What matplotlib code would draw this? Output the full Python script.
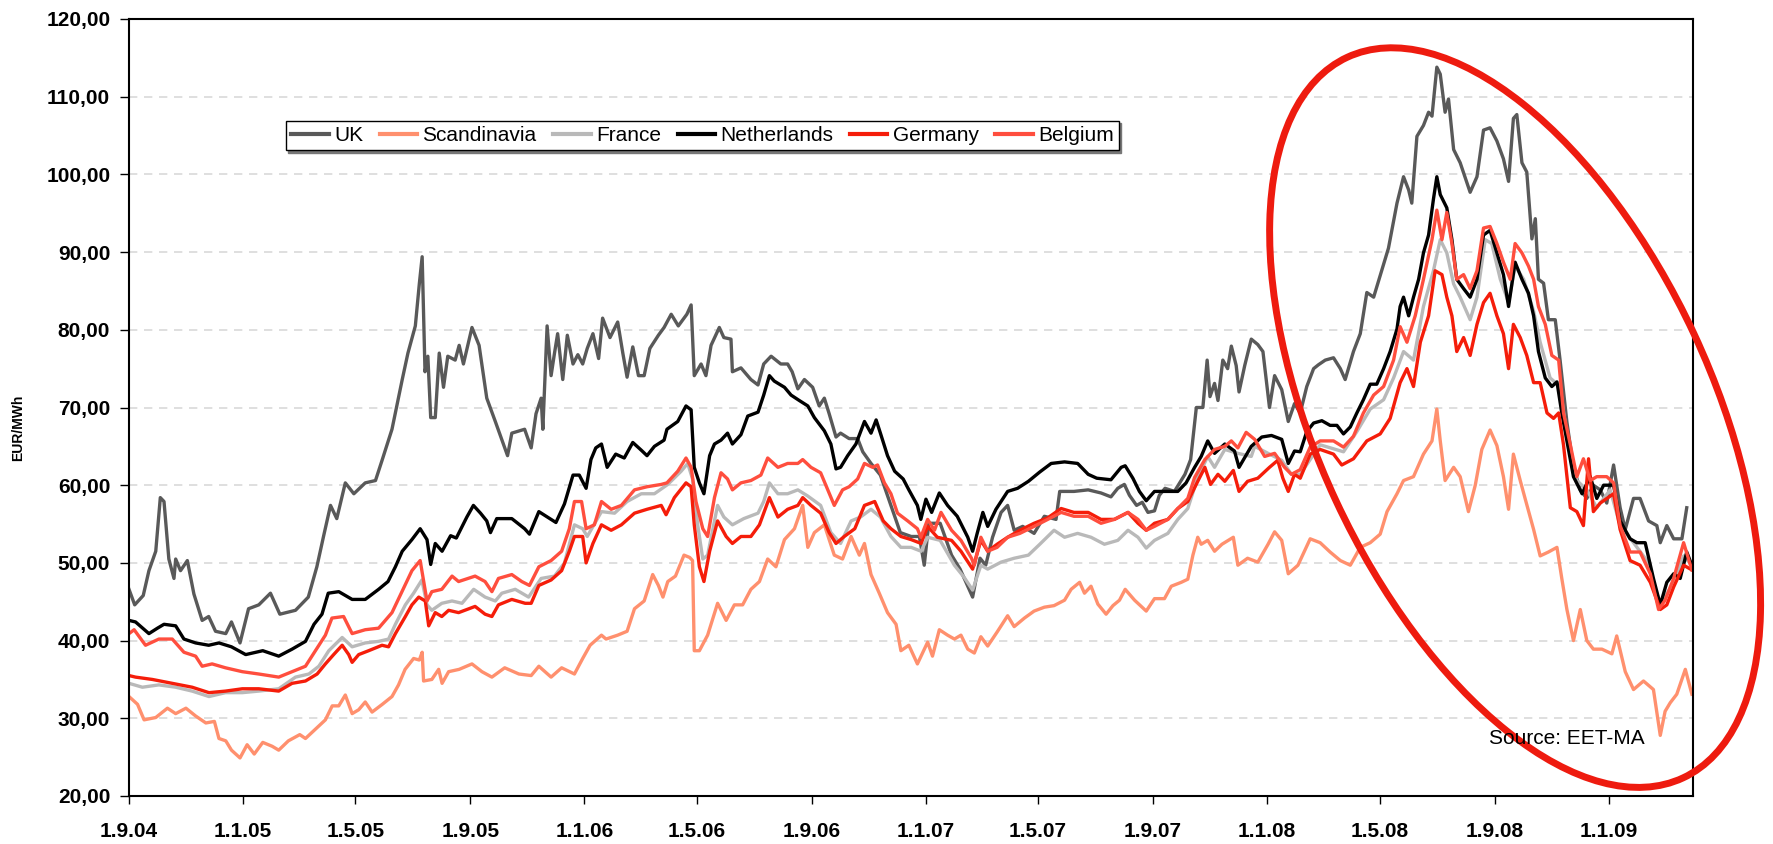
import matplotlib
matplotlib.use('Agg')
import matplotlib.pyplot as plt
from matplotlib import font_manager
from matplotlib.patches import Ellipse
from matplotlib.transforms import IdentityTransform
from matplotlib.ticker import FuncFormatter
import matplotlib.dates as mdates
import numpy as np
import pandas as pd

# x values are months after 1.9.2004
START = pd.Timestamp('2004-09-01')

uk_m = [0, 0.2, 0.5, 0.7, 0.94, 1.1, 1.23, 1.4, 1.58, 1.64, 1.81, 2.05, 2.28, 2.57, 2.8, 3.04, 3.4, 3.6, 3.9, 4.2,
        4.56, 4.97, 5.3, 5.85, 6.3, 6.6, 6.84, 7.08, 7.3, 7.6, 7.9, 8.3, 8.66, 8.9, 9.24, 9.6, 9.8, 10.06, 10.2, 10.3,
        10.4, 10.5, 10.6, 10.76, 10.9, 11.05, 11.2, 11.46, 11.6, 11.75, 12.05, 12.3, 12.57, 12.87, 13.3, 13.45, 13.9,
        14.13, 14.3, 14.48, 14.54, 14.69, 14.83, 14.95, 15.06, 15.24, 15.4, 15.6, 15.77, 15.94, 16.1, 16.3, 16.5, 16.64,
        16.9, 17.17, 17.35, 17.5, 17.7, 17.9, 18.1, 18.3, 18.6, 18.8, 19.05, 19.3, 19.6, 19.75, 19.86, 20.1, 20.27, 20.45,
        20.74, 20.9, 21.15, 21.2, 21.5, 21.85, 22.1, 22.3, 22.56, 22.9, 23.14, 23.3, 23.5, 23.73, 24.02, 24.25, 24.43,
        24.6, 24.84, 25, 25.3, 25.6, 25.78, 26.07, 26.4, 26.77, 27.1, 27.48, 27.77,
        27.94, 28.1, 28.5, 28.9, 29.2, 29.64, 29.9, 30.1, 30.34, 30.64, 30.87, 31.1, 31.4, 31.8, 32.16, 32.57, 32.7,
        33.2, 33.7, 34.15, 34.5, 34.74, 34.97, 35.15, 35.4, 35.6, 35.8, 36.03, 36.2, 36.4, 36.73, 37.1, 37.3, 37.5,
        37.73, 37.88, 37.98, 38.14, 38.26, 38.43, 38.6, 38.73, 38.9, 39, 39.2, 39.43, 39.66, 39.84, 40.07, 40.25, 40.5,
        40.73, 40.95,
        41.15, 41.38, 41.62, 41.79, 42.03, 42.32, 42.56, 42.73, 43.02, 43.26, 43.49, 43.73, 43.96, 44.25, 44.55, 44.78,
        44.96, 45.07, 45.25, 45.48, 45.66, 45.78, 45.95, 46.07, 46.24, 46.36, 46.54, 46.77, 47.12, 47.36, 47.59, 47.82,
        48.06, 48.29, 48.47, 48.64, 48.76, 48.94, 49.11, 49.29, 49.41, 49.52, 49.7, 49.87, 50.11, 50.28, 50.52, 50.75,
        50.99, 51.22, 51.45, 51.69, 51.92, 52.16, 52.39, 52.57, 52.86, 53.09, 53.39, 53.68, 53.8, 54.03, 54.27, 54.56,
        54.73]
uk_v = [46.6, 44.6, 45.8, 49, 51.5, 58.4, 57.9, 50.5, 48, 50.5, 49, 50.3, 46, 42.6, 43.1, 41.2, 40.9, 42.4, 39.7, 44.1,
        44.6, 46.1, 43.4, 43.9, 45.6, 49.5, 53.5, 57.4, 55.7, 60.3, 58.9, 60.3, 60.6, 63.3, 67.2, 73.6, 77, 80.5, 85.9,
        89.4, 74.6, 76.6, 68.7, 68.7, 77, 72.6, 76.6, 76.1, 78, 75.6, 80.3, 78, 71.2, 68.2, 63.8, 66.7, 67.2,
        64.8, 69.2, 71.2, 67.2, 80.5, 74.1, 77, 79.5, 73.6, 79.3, 75.6, 76.8, 75.6, 77.6, 79.5, 76.3, 81.5, 79, 81, 77,
        73.9, 77.8, 74.1, 74.1, 77.6, 79.3, 80.3, 82, 80.5, 82, 83.2, 74.1, 75.6, 74.1, 78, 80.3, 79, 78.8, 74.6, 75.1,
        73.6, 72.9, 75.6, 76.6, 75.6, 75.6, 74.6, 72.4, 73.6, 72.6, 70.2, 71.2, 69.2, 66.2, 66.7, 66, 66, 64.3, 62.8,
        61.3, 57.4, 53.9, 53.4, 53.4,
        49.7, 55.1, 55.1, 51, 49.2, 45.6, 50.6, 49.7, 53.3, 56.5, 57.4, 54.2, 54.7, 53.8, 56, 55.6, 59.2, 59.2, 59.4, 59,
        58.5, 59.6, 60.1, 58.7, 57.4, 57.8, 56.5, 56.7, 58.7, 59.6, 59.2, 61.4, 63.3, 70, 70, 76.1, 71.4, 73.1, 70.9,
        76.1, 75, 77.9, 75.4, 72, 75.4, 78.8, 78.1, 77.2, 70, 74.1, 72.3, 68.2, 70.5,
        69.3, 72.7, 75, 75.5, 76.1, 76.4, 75, 73.6, 77.2, 79.5, 84.8, 84.2, 87, 90.5, 96.3, 99.7, 98, 96.3, 104.9,
        106.3, 108, 107.5, 113.8, 112.9, 108, 109.7, 103.2, 101.5, 97.7, 99.7, 105.7, 106, 104.3, 102, 99.1, 107.2,
        107.7, 101.5, 100.3, 91.7, 94.3, 86.5, 86, 81.3, 81.3, 76.1, 68.1, 62.3, 59.4, 58.3, 60, 59.4, 57.7, 62.6,
        57.1, 54.3, 58.3, 58.3, 55.4, 54.8, 52.6, 54.8, 53.1, 53.1, 57.1]

sc_m = [0, 0.3, 0.53, 0.94, 1.35, 1.64, 2, 2.34, 2.7, 3, 3.16, 3.4, 3.6, 3.9, 4.15, 4.4, 4.7, 5.03, 5.26, 5.6,
        6, 6.2, 6.55, 6.9, 7.14, 7.37, 7.6, 7.84, 8.07, 8.3, 8.54, 8.9, 9.24, 9.47, 9.7, 10, 10.2, 10.3, 10.35, 10.64,
        10.88, 11, 11.23, 11.6, 12.05, 12.4, 12.75, 13.2, 13.7,
        14.13, 14.4, 14.83, 15.2, 15.65, 15.94, 16.2, 16.6, 16.76, 17.17, 17.5, 17.76, 18.1, 18.4, 18.6, 18.76, 18.93,
        19.2, 19.5, 19.7, 19.8, 19.86, 20.04, 20.33, 20.68, 20.98, 21.27, 21.56, 21.85, 22.15, 22.44, 22.73, 23.03,
        23.38, 23.67, 23.85, 24.08, 24.43, 24.78, 25.07, 25.37, 25.66, 25.84, 26.07, 26.36, 26.65, 26.95, 27.12, 27.4,
        27.7,
        28.06, 28.23, 28.47, 28.76, 29, 29.23, 29.47, 29.7, 29.93, 30.17, 30.5, 30.87, 31.1, 31.46, 31.8, 32.16, 32.5,
        32.87, 33.1, 33.4, 33.57, 33.8, 34.04, 34.33, 34.57, 34.8, 35, 35.33, 35.74, 36.03, 36.38, 36.62, 36.97, 37.2,
        37.38, 37.55, 37.67, 37.9, 38.14, 38.4, 38.8, 38.96, 39.3, 39.66, 40.02, 40.25, 40.5, 40.73, 41.07,
        41.5, 41.85, 42.2, 42.56, 42.91, 43.26, 43.61, 43.96, 44.2, 44.55, 44.78, 45.13, 45.48, 45.78, 45.95, 46.07,
        46.24, 46.54, 46.77, 47.06, 47.3, 47.53, 47.82, 48.06, 48.29, 48.47, 48.64, 48.88, 49.05, 49.35, 49.58, 49.87,
        50.17, 50.34, 50.52, 50.75, 50.99, 51.22, 51.45, 51.75, 52.1, 52.27, 52.57, 52.86, 53.21, 53.56, 53.8, 53.97,
        54.15, 54.38, 54.68, 54.91]
sc_v = [32.8, 31.8, 29.8, 30.1, 31.3, 30.6, 31.3, 30.3, 29.4, 29.6, 27.4, 27.1, 25.9, 24.9, 26.6, 25.4, 26.9, 26.4,
        25.9, 27.1, 27.9, 27.4, 28.6, 29.8, 31.6, 31.6, 33, 30.6, 31.1, 32.1, 30.8, 31.8, 32.8, 34.3, 36.3, 37.7, 37.5,
        38.5, 34.8, 35, 36.3, 34.5, 36, 36.3, 37, 36, 35.3, 36.5, 35.7,
        35.5, 36.7, 35.3, 36.5, 35.7, 37.7, 39.4, 40.7, 40.2, 40.7, 41.2, 44.1, 45.1, 48.5, 47.1, 45.6, 47.6, 48.3, 51,
        50.7, 50.3, 38.7, 38.7, 40.7, 44.8, 42.6, 44.6, 44.6, 46.6, 47.6, 50.5, 49.5, 53, 54.4, 57.4, 52, 53.9, 54.9,
        51, 50.5, 53.4, 51, 52.5, 48.5, 46.1, 43.6, 42.1, 38.7, 39.4, 37,
        39.8, 38, 41.4, 40.7, 40.2, 40.7, 38.9, 38.4, 40.5, 39.3, 41.1, 43.2, 41.8, 42.9, 43.8, 44.3, 44.5, 45.2, 46.6,
        47.5, 46.1, 47, 44.7, 43.4, 44.5, 45.2, 46.6, 45.2, 43.8, 45.4, 45.4, 47, 47.5, 47.9, 51, 53.3, 52.4, 52.9,
        51.5, 52.4, 53.3, 49.7, 50.6, 50.1, 52.4, 54, 52.9, 48.6, 49.7,
        53.1, 52.6, 51.4, 50.3, 49.7, 52, 52.6, 53.7, 56.6, 58.9, 60.6, 61.1, 64, 65.7, 69.8, 65.7, 60.6, 62.3, 61.1,
        56.6, 60, 64.6, 67.1, 65.1, 61.1, 56.9, 64, 60.6, 58.3, 54.3, 50.9, 51.4, 52, 48, 44, 40, 44, 40, 38.9, 38.9,
        38.3, 40.6, 36, 33.7, 34.8, 33.7, 27.8, 30.9, 32, 33.1, 36.3, 33.1]

fr_m = [0, 0.47, 1.05, 1.64, 2.22, 2.81, 3.39, 3.98, 4.56, 5.26, 5.85, 6.32, 6.67, 7.02, 7.49, 7.84, 8.3, 8.77, 9.12,
        9.36, 9.71, 10, 10.29, 10.47, 10.64, 10.99, 11.35, 11.7, 12.11, 12.51, 12.87, 13.1, 13.57, 14.04,
        14.48, 14.95, 15.3, 15.65, 15.94, 16.1, 16.6, 17.06, 17.5, 18, 18.46, 18.93, 19.4, 19.63, 19.8, 19.98, 20.16,
        20.33, 20.68, 20.9, 21.2, 21.6, 22.1, 22.3, 22.5, 22.8, 23.14, 23.5, 23.85, 24.3, 24.66, 25, 25.37, 25.7,
        26.07, 26.4, 26.77, 27.12, 27.48, 27.83,
        28.06, 28.5, 29, 29.35, 29.64, 29.93, 30.17, 30.64, 31.1, 31.6, 32, 32.5, 32.87, 33.33, 33.8, 34.27, 34.74,
        35.1, 35.45, 35.74, 36.03, 36.5, 36.85, 37.2, 37.55, 37.9, 38.14, 38.5, 38.96, 39.43, 39.55, 40.02, 40.5, 40.84,
        41.15, 41.85, 42.67, 43.14, 43.61, 44.08, 44.43, 44.78, 45.13, 45.48, 45.83, 46.07, 46.3, 46.54, 46.77, 47.12,
        47.36, 47.65, 47.88, 48.18, 48.47, 48.7, 49, 49.35, 49.58, 49.93, 50.28, 50.52, 50.87, 51.22, 51.57, 52.04,
        52.39, 52.86, 53.33, 53.8, 54.27, 54.62, 54.91]
fr_v = [34.5, 34, 34.3, 34, 33.5, 32.8, 33.3, 33.3, 33.5, 33.8, 35.3, 35.7, 36.7, 38.7, 40.4, 39.2, 39.7, 39.9, 40.2,
        42.1, 44.6, 46.1, 47.8, 44.6, 43.9, 44.8, 45.1, 44.8, 46.6, 45.6, 45.1, 46.1, 46.6, 45.6,
        48, 48.3, 50, 54.9, 54.4, 53.4, 56.6, 56.4, 57.9, 58.9, 58.9, 60.1, 61.8, 62.8, 60.8, 54.9, 50.5, 51, 57.4,
        55.9, 54.9, 55.7, 56.4, 57.9, 60.3, 58.9, 58.9, 59.4, 58.6, 57.4, 53.9, 52.5, 55.4, 55.9, 56.9, 55.9, 53.4, 52,
        52, 51.5,
        53.3, 52.9, 49.7, 48.1, 46.5, 49.7, 49.2, 50.1, 50.6, 51, 52.4, 54.2, 53.3, 53.8, 53.3, 52.4, 52.9, 54.2, 53.3,
        51.9, 52.9, 53.8, 55.6, 57, 61, 63.7, 62.3, 64.6, 64.1, 63.7, 65, 64.1, 63.2, 61.4,
        61.4, 65.2, 64.3, 66.9, 69.8, 71, 73.8, 77.2, 76.1, 83, 87.6, 91.6, 89.9, 85.9, 84.2, 81.3, 84.2, 91.6, 91.1,
        86.5, 83.5, 88.2, 86.5, 82.4, 78.4, 73.8, 72.7, 66.3, 60.6, 59.4, 57.1, 59.4, 54.8, 52.6, 50.3, 44.6, 47.5,
        50.9, 49.7]

nl_m = [0, 0.23, 0.7, 1, 1.23, 1.64, 1.93, 2.34, 2.8, 3.16, 3.6, 4.1, 4.7, 5.26, 5.73, 6.2, 6.5, 6.78, 7, 7.37,
        7.84, 8.3, 8.77, 9.1, 9.36, 9.6, 9.94, 10.23, 10.47, 10.6, 10.76, 11, 11.3, 11.5, 11.87, 12.1, 12.35, 12.57,
        12.7, 12.92, 13.45, 13.9,
        14.07, 14.4, 14.7, 15, 15.3, 15.6, 15.82, 16.06, 16.23, 16.4, 16.6, 16.8, 17.1, 17.4, 17.7, 18, 18.2, 18.46,
        18.8, 18.9, 19.28, 19.57, 19.75, 19.86, 20.04, 20.2, 20.4, 20.57, 20.8, 21.03, 21.2, 21.5, 21.74, 22.1, 22.3,
        22.5, 22.67, 23.03, 23.26, 23.55, 23.85, 24.08, 24.43, 24.66, 24.84, 25, 25.25, 25.54, 25.84, 26.07, 26.25,
        26.4, 26.65, 26.9, 27.2, 27.4, 27.7,
        27.82, 28, 28.2, 28.47, 28.76, 29.1, 29.47, 29.64, 29.8, 30, 30.17, 30.46, 30.87, 31.22, 31.6, 32, 32.4, 32.87,
        33.33, 33.7, 34, 34.5, 34.86, 35, 35.27, 35.5, 35.74, 36.03, 36.5, 36.85, 37.14, 37.44, 37.67, 37.9, 38.14,
        38.5, 38.84, 39, 39.43, 39.8, 40.14, 40.5, 40.73, 40.95,
        41.15, 41.38, 41.62, 41.91, 42.2, 42.44, 42.67, 42.91, 43.14, 43.37, 43.61, 43.84, 44.08, 44.31, 44.55, 44.66,
        44.78, 44.96, 45.13, 45.31, 45.48, 45.66, 45.83, 45.95, 46.07, 46.3, 46.48, 46.65, 46.89, 47.12, 47.36, 47.59,
        47.82, 48.06, 48.29, 48.47, 48.7, 48.94, 49.17, 49.35, 49.52, 49.76, 49.99, 50.17, 50.34, 50.52, 50.75, 51.05,
        51.34, 51.57, 51.81, 52.16, 52.39, 52.74, 52.98, 53.27, 53.56, 53.8, 54.03, 54.27, 54.5, 54.73, 54.91]
nl_v = [42.6, 42.4, 40.9, 41.6, 42.1, 41.9, 40.2, 39.7, 39.4, 39.7, 39.2, 38.2, 38.7, 38, 38.9, 39.9, 42.1, 43.4,
        46.1, 46.3, 45.3, 45.3, 46.6, 47.6, 49.5, 51.5, 53, 54.4, 53, 49.8, 52.5, 51.5, 53.5, 53.2, 55.9, 57.4, 56.4,
        55.4, 53.9, 55.7, 55.7, 54.4,
        53.7, 56.6, 55.9, 55.2, 57.6, 61.3, 61.3, 59.6, 63.3, 64.8, 65.3, 62.3, 64, 63.5, 65.5, 64.5, 63.8, 65, 65.8,
        67.2, 68.2, 70.2, 69.7, 62.3, 60.3, 58.9, 63.8, 65.3, 65.8, 66.7, 65.3, 66.5, 68.9, 69.4, 71.6, 74.1, 73.4,
        72.6, 71.6, 70.9, 70.2, 68.7, 67, 65.3, 62.1, 62.3, 63.8, 65.3, 68.2, 66.7, 68.4, 66.7, 63.8, 61.8, 60.8, 59.4,
        57.4,
        55.6, 58.2, 56.5, 59, 57.4, 56, 53.3, 51.5, 53.8, 56.5, 54.7, 56.9, 59.2, 59.6, 60.5, 61.7, 62.8, 63, 62.8,
        61.4, 60.9, 60.7, 62.3, 62.5, 60.9, 59.2, 58, 59.2, 59.2, 59.2, 60.3, 62.3, 63.7, 65.7, 64.1, 65.3, 64.4, 62.3,
        65, 66.2, 66.4, 65.9, 62.8, 64.4,
        64.3, 66.9, 68, 68.3, 67.7, 67.7, 66.6, 67.5, 69.3, 71, 73, 73, 75, 77.2, 80.1, 83, 84.2, 81.8, 84.2, 86.5,
        89.9, 92.2, 96.8, 99.7, 97.4, 95.7, 91.6, 86.5, 85.3, 84.2, 86.5, 92.2, 92.8, 89.9, 87.1, 83, 88.7, 86.5, 84.7,
        81.8, 77.2, 73.8, 72.7, 73.3, 69.3, 65.7, 61.1, 58.9, 61.1, 58.3, 60, 60, 55.4, 53.1, 52.6, 52.6, 48, 44.6,
        47.5, 48.6, 48, 51.4, 49.7]

de_m = [0, 0.23, 0.82, 1.52, 2.22, 2.81, 3.39, 3.98, 4.56, 5.26, 5.73, 6.2, 6.61, 6.9, 7.19, 7.49, 7.72, 7.84, 8.07,
        8.42, 8.89, 9.12, 9.36, 9.71, 9.94, 10.18, 10.41, 10.53, 10.76, 10.99, 11.23, 11.58, 12.16, 12.51, 12.75,
        12.98, 13.45, 13.92,
        14.13, 14.4, 14.83, 15.2, 15.47, 15.65, 15.94, 16.06, 16.3, 16.6, 16.94, 17.3, 17.76, 18.2, 18.7, 18.87, 19.16,
        19.57, 19.75, 19.86, 20.04, 20.2, 20.4, 20.68, 20.98, 21.2, 21.5, 21.85, 22.15, 22.5, 22.8, 23.14, 23.5, 23.67,
        23.96, 24.3, 24.6, 24.84, 25.13, 25.5, 25.84, 26.2, 26.5, 26.77, 27.12, 27.48, 27.83,
        28.06, 28.4, 28.9, 29.23, 29.64, 29.93, 30.17, 30.5, 30.87, 31.3, 31.8, 32.28, 32.75, 33.2, 33.7, 34.15, 34.62,
        35.1, 35.45, 35.74, 36.03, 36.5, 36.85, 37.2, 37.55, 37.8, 38, 38.26, 38.5, 38.8, 39, 39.3, 39.66, 40.07,
        40.36, 40.54, 40.73, 40.95,
        41.15, 41.5, 41.85, 42.32, 42.61, 43.02, 43.49, 43.96, 44.31, 44.66, 44.9, 45.13, 45.37, 45.66, 45.89, 46.13,
        46.3, 46.48, 46.65, 46.89, 47.12, 47.36, 47.59, 47.82, 48.06, 48.29, 48.47, 48.64, 48.88, 49.11, 49.35, 49.58,
        49.82, 50.05, 50.23, 50.4, 50.64, 50.87, 51.1, 51.28, 51.45, 51.69, 52.16, 52.39, 52.74, 53.09, 53.45, 53.8,
        54.03, 54.27, 54.62, 54.91]
de_v = [35.5, 35.3, 35, 34.5, 34, 33.3, 33.5, 33.8, 33.8, 33.5, 34.5, 34.8, 35.7, 37, 38.2, 39.4, 38.2, 37.2, 38.2,
        38.7, 39.4, 39.2, 40.9, 43.1, 44.6, 45.6, 45.1, 41.9, 43.6, 43.1, 43.9, 43.6, 44.4, 43.4, 43.1, 44.6, 45.3,
        44.8,
        44.8, 47.1, 47.8, 49, 51.5, 53.4, 53.4, 50, 52.5, 54.9, 54.2, 54.9, 56.4, 56.9, 57.4, 56.2, 58.4, 60.3, 59.8,
        54.9, 49.5, 47.6, 51.5, 55.4, 53.4, 52.5, 53.4, 53.4, 54.9, 58.4, 55.9, 56.9, 57.4, 58.4, 57.4, 56.4, 53.9,
        52.5, 53.4, 54.4, 57.4, 57.9, 55.4, 54.4, 53.4, 53, 52.5,
        54.7, 53.3, 52.9, 51.5, 49.2, 52.9, 51.5, 52.4, 53.3, 54.2, 55.1, 55.8, 57, 56.5, 56.5, 55.6, 55.6, 56.5, 55.1,
        54.2, 55.1, 55.6, 57, 57.9, 60.5, 62.3, 60.1, 61.4, 60.5, 61.9, 59.2, 60.5, 60.9, 62.3, 63.2, 60.9, 59.2, 61.4,
        60.9, 64, 64.6, 64, 62.6, 63.4, 65.7, 66.6, 68.6, 73.2, 75, 72.7, 78.4, 81.8, 87.6, 87.1, 84.2, 81.8, 77.2, 79,
        76.7, 80.7, 83.5, 84.7, 81.8, 79.5, 75, 80.7, 79, 76.7, 73.2, 73.2, 69.3, 68.6, 69.3, 65.2, 57.1, 56.6, 54.8,
        63.4, 56.6, 57.7, 58.9, 54.3, 50.3, 49.7, 47.5, 44, 44.6, 46.9, 49.7, 49.1]

be_m = [0, 0.18, 0.58, 1.05, 1.52, 1.93, 2.34, 2.57, 2.92, 3.39, 3.98, 4.56, 5.26, 5.73, 6.2, 6.55, 6.9, 7.13, 7.54,
        7.84, 8.3, 8.77, 9.24, 9.59, 9.94, 10.23, 10.47, 10.64, 10.99, 11.35, 11.58, 12.16, 12.51, 12.75, 12.98, 13.45,
        13.8,
        14.07, 14.4, 14.83, 15.2, 15.47, 15.65, 15.9, 16.06, 16.35, 16.6, 16.94, 17.3, 17.76, 18.2, 18.7, 18.9, 19.28,
        19.57, 19.75, 19.92, 20.16, 20.33, 20.57, 20.8, 21.03, 21.2, 21.5, 21.85, 22.2, 22.44, 22.8, 23.14, 23.5,
        23.67, 23.96, 24.3, 24.55, 24.78, 25.07, 25.3, 25.6, 25.84, 26.13, 26.3, 26.54, 26.77, 27, 27.36, 27.7,
        27.82, 28.06, 28.3, 28.53, 28.9, 29.23, 29.6, 29.7, 29.93, 30.17, 30.5, 30.87, 31.3, 31.8, 32.28, 32.75, 33.2,
        33.7, 34.15, 34.62, 35.1, 35.45, 35.74, 36.03, 36.5, 36.85, 37.2, 37.44, 37.8, 38.14, 38.5, 38.73, 38.96,
        39.25, 39.55, 39.9, 40.25, 40.6, 40.84,
        41.15, 41.5, 41.85, 42.32, 42.67, 43.02, 43.37, 43.73, 44.08, 44.43, 44.66, 44.9, 45.19, 45.48, 45.78, 45.95,
        46.13, 46.3, 46.48, 46.65, 46.89, 47.12, 47.36, 47.59, 47.82, 48.06, 48.29, 48.53, 48.7, 48.94, 49.17, 49.35,
        49.52, 49.76, 49.99, 50.23, 50.4, 50.64, 50.87, 51.1, 51.34, 51.57, 51.92, 52.16, 52.39, 52.74, 53.09, 53.45,
        53.74, 53.97, 54.27, 54.62, 54.91]
be_v = [40.9, 41.4, 39.4, 40.2, 40.2, 38.5, 38, 36.7, 37, 36.5, 36, 35.7, 35.3, 36, 36.7, 38.7, 40.7, 42.9, 43.1, 40.9,
        41.4, 41.6, 43.6, 46.3, 49, 50.3, 45.1, 46.3, 46.6, 48.3, 47.6, 48.3, 47.6, 46.3, 48, 48.5, 47.6,
        47.1, 49.5, 50.3, 51.5, 54.4, 57.9, 57.9, 54.4, 54.9, 57.9, 56.9, 57.4, 59.4, 59.8, 60.1, 60.3, 61.8, 63.5,
        62.3, 57.9, 54.4, 53.4, 58.4, 61.6, 60.8, 59.4, 60.3, 60.6, 61.3, 63.5, 62.3, 62.8, 62.8, 63.3, 62.3, 61.6,
        59.4, 57.4, 59.4, 59.8, 60.8, 62.8, 62.3, 62.6, 60.3, 58.9, 56.4, 55.4, 54.4,
        53.3, 55.6, 54.2, 56.5, 54.2, 52.9, 50.6, 49.7, 53.3, 51.5, 52, 53.3, 53.8, 54.7, 55.6, 56.5, 56, 56, 55.1,
        55.6, 56.5, 55.6, 54.2, 54.7, 55.6, 57, 58.3, 61, 63.3, 64.6, 65, 65.7, 64.8, 66.8, 65.9, 63.7, 64.1, 62.3,
        61.4,
        62, 64.9, 65.7, 65.7, 64.9, 66.3, 69.3, 71.6, 72.7, 76.1, 80.4, 78.4, 81.8, 86.5, 91.6, 95.4, 91.6, 95.1, 91.1,
        86.5, 87.1, 85.3, 87.6, 93.1, 93.3, 91.1, 88.7, 86.5, 91.1, 89.9, 88.2, 86.5, 83, 80.7, 76.7, 76.1, 69.3, 65.2,
        61.1, 63.4, 60.6, 61.1, 61.1, 60.3, 54.8, 51.4, 51.4, 48.6, 44, 45.2, 48, 52.6, 49.1]

series_names = ['UK', 'Scandinavia', 'France', 'Netherlands', 'Germany', 'Belgium']
series_x = [uk_m, sc_m, fr_m, nl_m, de_m, be_m]
series_y = [uk_v, sc_v, fr_v, nl_v, de_v, be_v]
series_colors = ['#595959', '#FF906E', '#B9B9B9', '#000000', '#F51D0A', '#FF4E3E']

tick_dates = pd.date_range('2004-09-01', '2009-01-01', freq='4MS')
y_ticks = np.arange(20, 121, 10)

# fonts
available = {f.name for f in font_manager.fontManager.ttflist}
main_font = 'Liberation Sans' if 'Liberation Sans' in available else 'DejaVu Sans'
narrow_font = 'Liberation Sans Narrow' if 'Liberation Sans Narrow' in available else main_font
plt.rcParams['font.family'] = [main_font, 'DejaVu Sans']


def to_dates(months):
    return START + pd.to_timedelta(np.asarray(months) * 30.44, unit='D')


W, H = 1773, 844
fig = plt.figure(figsize=(W / 100, H / 100), dpi=100)
ax = fig.add_axes([129 / W, 1 - 796 / H, (1693 - 129) / W, (796 - 19) / H])

for xs, ys, name, col in zip(series_x, series_y, series_names, series_colors):
    ax.plot(to_dates(xs), ys, color=col, lw=2.4, label=name, solid_joinstyle='round')

ax.set_xlim(START, START + pd.Timedelta(days=54.95 * 30.44))
ax.set_ylim(20, 120)
ax.set_xticks(tick_dates)
ax.set_xticklabels([f"{d.day}.{d.month}.{d:%y}" for d in tick_dates])
ax.set_yticks(y_ticks)
ax.yaxis.set_major_formatter(FuncFormatter(lambda v, p: f"{v:.2f}".replace('.', ',')))

for lab in ax.get_xticklabels() + ax.get_yticklabels():
    lab.set_fontweight('bold')
    lab.set_fontsize(15)
ax.tick_params(axis='x', direction='out', length=6, width=1, pad=13)
ax.tick_params(axis='y', direction='out', length=6.5, width=1, pad=7)

ax.yaxis.grid(True, color='#D9D9D9', linestyle=(0, (5, 4)), linewidth=1.2)
ax.set_axisbelow(True)
for sp in ax.spines.values():
    sp.set_color('black')
    sp.set_linewidth(1.5)

leg = ax.legend(loc='upper left', bbox_to_anchor=((286 - 129) / (1693 - 129), 1 - (121 - 19) / (796 - 19)),
                borderaxespad=0, ncol=6, fontsize=15, frameon=True, fancybox=False,
                edgecolor='black', handlelength=1.8, handletextpad=0.25, columnspacing=0.8,
                borderpad=0.25, shadow={'ox': 1.5, 'oy': -1.5, 'color': '#777777', 'alpha': 1})
leg.get_frame().set_linewidth(1.0)
for line in leg.get_lines():
    line.set_linewidth(3)

fig.text(18 / W, 1 - 428 / H, 'EUR/MWh', rotation=90, ha='center', va='center',
         fontsize=10, fontweight='bold', family=[narrow_font, 'DejaVu Sans'])
fig.text(1489 / W, 1 - 739 / H, 'Source: EET-MA', ha='left', va='center', fontsize=15)

# red ellipse marking the 2008 price peak
cx, cy = ax.transData.transform((mdates.date2num(START + pd.Timedelta(days=48.7 * 30.44)), 68.7))
ring = Ellipse((cx, cy), width=795, height=395, angle=-65, fill=False,
               edgecolor='#EE1B0F', linewidth=5, transform=IdentityTransform(), clip_on=False)
fig.add_artist(ring)

fig.savefig('out.png', dpi=100)
